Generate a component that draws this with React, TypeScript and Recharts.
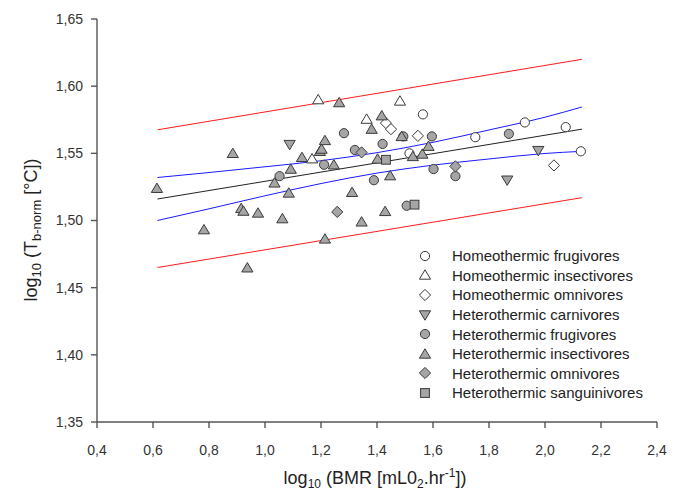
import React from 'react';
import { ComposedChart, Scatter, Line, XAxis, YAxis } from 'recharts';

const FONT = '"Liberation Sans", Arial, sans-serif';

const xTicks = [0.4, 0.6, 0.8, 1.0, 1.2, 1.4, 1.6, 1.8, 2.0, 2.2, 2.4];
const yTicks = [1.35, 1.4, 1.45, 1.5, 1.55, 1.6, 1.65];

// regression line + prediction interval (straight) and confidence band (curved)
const fitX = [0.616, 2.132];
const fitY = [1.516, 1.568];
const predUpperY = [1.5675, 1.62];
const predLowerY = [1.465, 1.517];
const bandX = [0.616, 0.8, 1.0, 1.2, 1.4, 1.6, 1.8, 2.0, 2.132];
const confUpperY = [1.532, 1.5357, 1.54, 1.5445, 1.5505, 1.5582, 1.5674, 1.5769, 1.5845];
const confLowerY = [1.5, 1.5087, 1.5184, 1.5275, 1.5353, 1.5412, 1.5458, 1.5499, 1.5515];

// species groups
const homeoFrugX = [1.564, 1.751, 1.516, 1.928, 2.074, 2.128];
const homeoFrugY = [1.579, 1.562, 1.55, 1.573, 1.5695, 1.5515];
const homeoInsX = [1.19, 1.482, 1.363, 1.168];
const homeoInsY = [1.59, 1.589, 1.5755, 1.546];
const homeoOmniX = [1.432, 1.45, 1.546, 2.032];
const homeoOmniY = [1.5725, 1.568, 1.563, 1.541];
const heteroCarnX = [1.088, 1.976, 1.865];
const heteroCarnY = [1.5565, 1.552, 1.53];
const heteroFrugX = [1.052, 1.282, 1.211, 1.321, 1.42, 1.494, 1.596, 1.389, 1.602, 1.68, 1.506, 1.871];
const heteroFrugY = [1.533, 1.565, 1.5415, 1.5525, 1.557, 1.5626, 1.5626, 1.53, 1.5383, 1.533, 1.511, 1.5645];
const heteroInsX = [
  0.614, 0.885, 0.915, 0.923, 0.975, 0.782, 0.937, 1.062, 1.034, 1.085, 1.092, 1.132, 1.196, 1.202, 1.214,
  1.246, 1.265, 1.381, 1.417, 1.311, 1.345, 1.214, 1.402, 1.447, 1.429, 1.488, 1.528, 1.562, 1.584,
];
const heteroInsY = [
  1.524, 1.55, 1.509, 1.507, 1.5056, 1.4932, 1.4648, 1.5014, 1.528, 1.5205, 1.5383, 1.547, 1.5515, 1.5532, 1.5596,
  1.5415, 1.5878, 1.568, 1.578, 1.521, 1.499, 1.4863, 1.5458, 1.5334, 1.5068, 1.5626, 1.5477, 1.5495, 1.5553,
];
const heteroOmniX = [1.345, 1.258, 1.68];
const heteroOmniY = [1.5507, 1.5064, 1.5403];
const heteroSangX = [1.432, 1.534];
const heteroSangY = [1.5452, 1.5118];

const toPoints = (xs: number[], ys: number[]) => xs.map((x, i) => ({ x, y: ys[i] }));

const WHITE = '#ffffff';
const GREY = '#a5a5a5';

const groups = [
  { name: 'Homeothermic frugivores', kind: 'circle', fill: WHITE, data: toPoints(homeoFrugX, homeoFrugY) },
  { name: 'Homeothermic insectivores', kind: 'up', fill: WHITE, data: toPoints(homeoInsX, homeoInsY) },
  { name: 'Homeothermic omnivores', kind: 'diamond', fill: WHITE, data: toPoints(homeoOmniX, homeoOmniY) },
  { name: 'Heterothermic carnivores', kind: 'down', fill: GREY, data: toPoints(heteroCarnX, heteroCarnY) },
  { name: 'Heterothermic frugivores', kind: 'circle', fill: GREY, data: toPoints(heteroFrugX, heteroFrugY) },
  { name: 'Heterothermic insectivores', kind: 'up', fill: GREY, data: toPoints(heteroInsX, heteroInsY) },
  { name: 'Heterothermic omnivores', kind: 'diamond', fill: GREY, data: toPoints(heteroOmniX, heteroOmniY) },
  { name: 'Heterothermic sanguinivores', kind: 'square', fill: GREY, data: toPoints(heteroSangX, heteroSangY) },
];

const Marker = ({ kind, x, y, fill }: { kind: string; x: number; y: number; fill: string }) => {
  const common = { fill, stroke: '#3a3a3a', strokeWidth: 1 };
  switch (kind) {
    case 'circle':
      return <circle cx={x} cy={y} r={4.6} {...common} />;
    case 'up':
      return <path d={`M${x},${y - 5.2}L${x + 5.6},${y + 4.2}L${x - 5.6},${y + 4.2}Z`} {...common} />;
    case 'down':
      return <path d={`M${x},${y + 5.2}L${x + 5.6},${y - 4.2}L${x - 5.6},${y - 4.2}Z`} {...common} />;
    case 'diamond':
      return <path d={`M${x},${y - 5.6}L${x + 5.6},${y}L${x},${y + 5.6}L${x - 5.6},${y}Z`} {...common} />;
    default:
      return <rect x={x - 4.4} y={y - 4.4} width={8.8} height={8.8} {...common} />;
  }
};

const makeShape = (kind: string, fill: string) => (props: any) => {
  const { cx, cy } = props;
  if (cx == null || cy == null) return <g />;
  return <Marker kind={kind} x={cx} y={cy} fill={fill} />;
};

const YTitle = () => (
  <text
    x={37}
    y={230}
    transform="rotate(-90 37 230)"
    textAnchor="middle"
    fontFamily={FONT}
    fontSize={18}
    fill="#222"
  >
    log
    <tspan fontSize={13} dy={4}>10</tspan>
    <tspan dy={-4}> (T</tspan>
    <tspan fontSize={13} dy={4}>b-norm</tspan>
    <tspan dy={-4}> [°C])</tspan>
  </text>
);

const XTitle = () => (
  <text x={375} y={484} textAnchor="middle" fontFamily={FONT} fontSize={18} fill="#222">
    log
    <tspan fontSize={12} dy={4}>10</tspan>
    <tspan dy={-4}> (BMR [mL0</tspan>
    <tspan fontSize={12} dy={4}>2</tspan>
    <tspan dy={-4}>.hr</tspan>
    <tspan fontSize={12} dy={-7}>-1</tspan>
    <tspan dy={7}>])</tspan>
  </text>
);

const comma = (digits: number) => (v: number) => v.toFixed(digits).replace('.', ',');

const tickStyle = { fill: '#333', fontSize: 14, fontFamily: FONT };
const axisStroke = { stroke: '#555', strokeWidth: 1.4 };

const LegendBox = () => (
  <div
    style={{
      position: 'absolute',
      left: 414,
      top: 246,
      fontFamily: FONT,
      fontSize: 15,
      color: '#222',
    }}
  >
    {groups.map((g) => (
      <div key={g.name} style={{ height: 19.6, display: 'flex', alignItems: 'center', whiteSpace: 'nowrap' }}>
        <svg width={22} height={16} style={{ display: 'block' }}>
          <Marker kind={g.kind} x={11} y={8} fill={g.fill} />
        </svg>
        <span style={{ marginLeft: 16 }}>{g.name}</span>
      </div>
    ))}
  </div>
);

export default function App() {
  return (
    <div style={{ position: 'absolute', left: 0, top: 0, width: 677, height: 492, background: '#fff' }}>
      <ComposedChart width={677} height={492} margin={{ top: 19, right: 20, bottom: 0, left: 0 }}>
        <XAxis
          type="number"
          dataKey="x"
          domain={[0.4, 2.4]}
          ticks={xTicks}
          tickFormatter={comma(1)}
          tick={tickStyle}
          tickSize={6}
          tickMargin={17}
          axisLine={axisStroke}
          tickLine={axisStroke}
          height={70}
          allowDataOverflow
          label={<XTitle />}
        />
        <YAxis
          type="number"
          dataKey="y"
          domain={[1.35, 1.65]}
          ticks={yTicks}
          tickFormatter={comma(2)}
          tick={tickStyle}
          tickSize={6}
          tickMargin={8}
          axisLine={axisStroke}
          tickLine={axisStroke}
          width={97}
          allowDataOverflow
          label={<YTitle />}
        />
        <Line data={toPoints(fitX, predUpperY)} dataKey="y" stroke="#ff1a1a" strokeWidth={1} dot={false} isAnimationActive={false} type="linear" />
        <Line data={toPoints(fitX, predLowerY)} dataKey="y" stroke="#ff1a1a" strokeWidth={1} dot={false} isAnimationActive={false} type="linear" />
        <Line data={toPoints(bandX, confUpperY)} dataKey="y" stroke="#1a1aff" strokeWidth={1} dot={false} isAnimationActive={false} type="monotone" />
        <Line data={toPoints(bandX, confLowerY)} dataKey="y" stroke="#1a1aff" strokeWidth={1} dot={false} isAnimationActive={false} type="monotone" />
        <Line data={toPoints(fitX, fitY)} dataKey="y" stroke="#222" strokeWidth={1} dot={false} isAnimationActive={false} type="linear" />
        {groups.map((g) => (
          <Scatter
            key={g.name}
            name={g.name}
            data={g.data}
            shape={makeShape(g.kind, g.fill)}
            isAnimationActive={false}
          />
        ))}
      </ComposedChart>
      <LegendBox />
    </div>
  );
}
